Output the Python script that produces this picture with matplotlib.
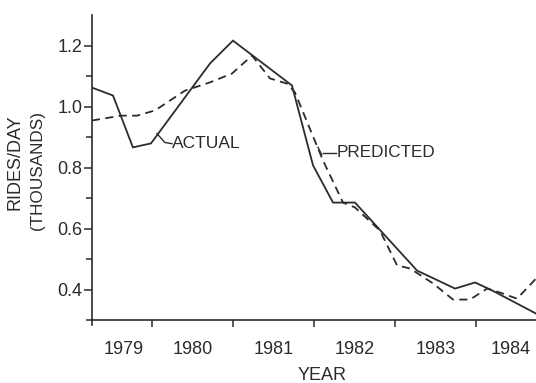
import numpy as np
import matplotlib
matplotlib.use('Agg')
import matplotlib.pyplot as plt

plt.rcParams['font.family'] = ['Liberation Sans', 'DejaVu Sans']

# values (x in fractional years, y in thousands of rides/day)
actual_x = [1979.259, 1979.519, 1979.765, 1979.988, 1980.716, 1981.0, 1981.728,
            1981.988, 1982.235, 1982.506, 1983.272, 1983.741, 1983.988, 1984.198, 1984.741]
actual_y = [1.062, 1.036, 0.866, 0.879, 1.141, 1.216, 1.069,
            0.807, 0.685, 0.685, 0.462, 0.403, 0.423, 0.397, 0.321]

pred_x = [1979.259, 1979.617, 1979.815, 1980.037, 1980.407, 1980.716, 1980.988, 1981.235,
          1981.457, 1981.667, 1981.765, 1982.111, 1982.358, 1982.506, 1982.815, 1983.025,
          1983.185, 1983.469, 1983.716, 1983.926, 1984.136, 1984.296, 1984.506, 1984.741]
pred_y = [0.954, 0.970, 0.970, 0.987, 1.052, 1.079, 1.108, 1.167,
          1.092, 1.075, 1.046, 0.823, 0.685, 0.669, 0.593, 0.479,
          0.469, 0.420, 0.367, 0.367, 0.403, 0.390, 0.370, 0.436]

year_ticks = [1980, 1981, 1982, 1983, 1984]
year_label_pos = [1979.65, 1980.5, 1981.5, 1982.5, 1983.5, 1984.43]
year_labels = ['1979', '1980', '1981', '1982', '1983', '1984']
y_major = [0.4, 0.6, 0.8, 1.0, 1.2]
y_minor = [0.3, 0.5, 0.7, 0.9, 1.1]

ink = '#2b2b2b'
fig = plt.figure(figsize=(5.36, 3.83), dpi=100)
ax = fig.add_axes([92/536, 1-320/383, 1-92/536, (320-15)/383])

ax.plot(actual_x, actual_y, color=ink, lw=1.3, solid_joinstyle='miter')
ax.plot(pred_x, pred_y, color=ink, lw=1.3, linestyle=(0, (4.5, 3)))

ax.set_xlim(1979.26, 1984.74)
ax.set_ylim(0.3, 1.3)

for s in ['top', 'right']:
    ax.spines[s].set_visible(False)
for s in ['left', 'bottom']:
    ax.spines[s].set_color(ink)
    ax.spines[s].set_linewidth(1.2)
# left spine pokes a little below the x axis, as in the drawing
ax.plot([0, 0], [0, -0.016], transform=ax.transAxes, clip_on=False,
        color=ink, lw=1.2)

ax.set_yticks(y_major)
ax.set_yticklabels(['%.1f' % v for v in y_major])
ax.set_yticks(y_minor, minor=True)
ax.tick_params(axis='y', which='major', length=6, width=1.1, pad=1,
               labelsize=13, colors=ink)
ax.tick_params(axis='y', which='minor', length=4, width=1.1, colors=ink)

ax.set_xticks(year_ticks)
ax.set_xticklabels([])
ax.set_xticks(year_label_pos, minor=True)
ax.set_xticklabels(year_labels, minor=True)
ax.tick_params(axis='x', which='major', length=5, width=1.1, colors=ink)
ax.tick_params(axis='x', which='minor', length=0, pad=15, labelsize=13, colors=ink)

# annotations with leader strokes
ax.plot([1980.062, 1980.16, 1980.247], [0.911, 0.882, 0.878], color=ink, lw=1.0)
ax.text(1980.25, 0.878, 'ACTUAL', fontsize=12.5, color=ink, ha='left', va='center')
ax.plot([1982.05, 1982.095], [0.866, 0.842], color=ink, lw=1.0)
ax.plot([1982.11, 1982.27], [0.849, 0.849], color=ink, lw=1.0)
ax.text(1982.275, 0.849, 'PREDICTED', fontsize=12.3, color=ink, ha='left', va='center')

fig.text(322/536, 1-375/383, 'YEAR', fontsize=13, color=ink, ha='center', va='center')
fig.text(15/536, 1-162/383, 'RIDES/DAY', fontsize=13, color=ink, rotation=90,
         ha='center', va='center')
fig.text(38/536, 1-171/383, '(THOUSANDS)', fontsize=12.3, color=ink, rotation=90,
         ha='center', va='center')

fig.savefig('out.png', dpi=100)
